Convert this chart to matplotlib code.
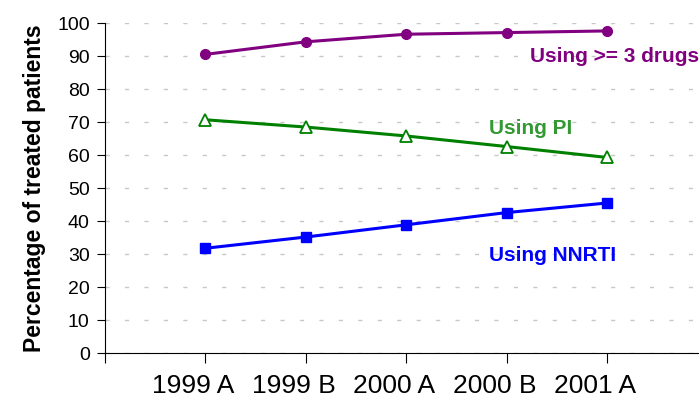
import numpy as np
import matplotlib
matplotlib.use("Agg")
import matplotlib.pyplot as plt
import matplotlib.transforms as mtransforms

plt.rcParams['font.family'] = ['Liberation Sans', 'DejaVu Sans']

periods = ['1999 A', '1999 B', '2000 A', '2000 B', '2001 A']
three_drugs = [90.5, 94.3, 96.6, 97.1, 97.6]
using_pi = [70.7, 68.5, 65.8, 62.6, 59.3]
using_nnrti = [31.8, 35.2, 38.9, 42.6, 45.5]

fig = plt.figure(figsize=(6.99, 3.97), dpi=100)
# left spine at x=105, axis runs past the right edge
ax = fig.add_axes([105 / 699, 1 - 353.3 / 397, 1 - 105 / 699, 330.3 / 397])

x = np.arange(len(periods))
ax.plot(x, three_drugs, color='#800080', lw=2.2, marker='o', ms=7, zorder=3)
ax.plot(x, using_pi, color='#008000', lw=2.2, marker='^', ms=8,
        mfc='white', mec='#008000', mew=1.3, zorder=3)
ax.plot(x, using_nnrti, color='#0000FF', lw=2.2, marker='s', ms=7, zorder=3)

ax.set_xlim(-1, 4 + (699 - 607) / 100.25)
ax.set_ylim(0, 100)
ax.set_yticks(range(0, 101, 10))
ax.set_xticks(np.arange(-1, len(periods)))
ax.set_xticklabels([''] + periods, fontsize=19)
ax.tick_params(axis='x', length=7, pad=8, direction='out')
ax.tick_params(axis='y', length=6, labelsize=14, pad=5)

# category labels sit a little left of their ticks in the original
shift = mtransforms.ScaledTranslation(-12 / 100, 0, fig.dpi_scale_trans)
for lab in ax.get_xticklabels():
    lab.set_transform(lab.get_transform() + shift)

ax.yaxis.grid(True, color='#c8c8c8', linestyle=(0, (3, 11)), lw=1)
ax.set_axisbelow(True)
for s in ['top', 'right']:
    ax.spines[s].set_visible(False)

ax.set_ylabel('Percentage of treated patients', fontsize=16.5, fontweight='bold', labelpad=8)

ax.text(3.23, 90, 'Using >= 3 drugs', color='#800080', fontsize=15,
        fontweight='bold', va='center')
ax.text(2.83, 68.2, 'Using PI', color='#339933', fontsize=15,
        fontweight='bold', va='center')
ax.text(2.83, 29.5, 'Using NNRTI', color='#0000FF', fontsize=15,
        fontweight='bold', va='center')

fig.savefig('out.png', dpi=100)
